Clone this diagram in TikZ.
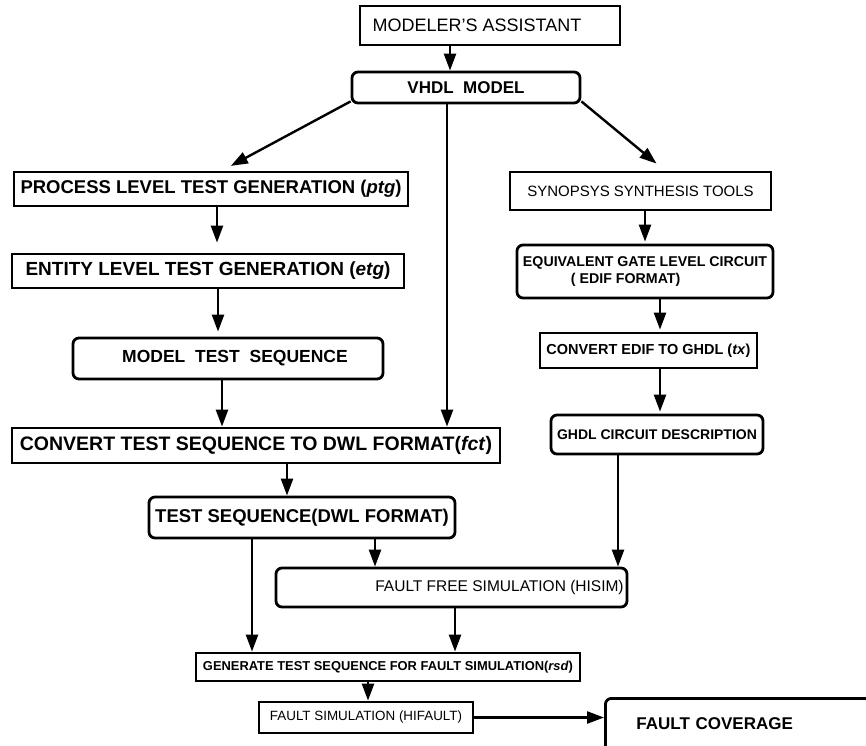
\documentclass[tikz,border=0pt]{standalone}
\usepackage{fontspec}
\setmainfont{Liberation Sans}
\usetikzlibrary{arrows.meta}
\newcommand{\fsz}[1]{\fontsize{#1}{#1}\selectfont}
\tikzset{
  bx/.style={draw, line width=2.8pt, inner sep=0pt, align=center},
  rbx/.style={bx, rounded corners=6pt},
  arr/.style={line width=2.4pt, -{Triangle[length=17pt,width=12pt]}},
}
\begin{document}
\begin{tikzpicture}[x=1pt,y=-1pt]
\useasboundingbox (0,0) rectangle (866,745);
% left column
\node[bx, minimum width=260pt, minimum height=39pt, font=\fsz{18}] (ma) at (490,25.5) {MODELER'S ASSISTANT\hspace{26pt}};
\node[rbx, minimum width=228pt, minimum height=31pt, font=\fsz{17}\bfseries] (vhdl) at (466,87.5) {VHDL\ \ MODEL};
\node[bx, minimum width=394pt, minimum height=34pt, font=\fsz{18.5}\bfseries] (ptg) at (211,189) {PROCESS LEVEL TEST GENERATION (\textit{ptg})};
\node[bx, minimum width=392pt, minimum height=34pt, font=\fsz{19}\bfseries] (etg) at (208,271) {ENTITY LEVEL TEST GENERATION (\textit{etg})};
\node[rbx, minimum width=310pt, minimum height=41pt, font=\fsz{17.5}\bfseries] (mts) at (228,358.5) {\hspace{14pt}MODEL\ \ TEST\ \ SEQUENCE};
\node[bx, minimum width=488pt, minimum height=35pt, font=\fsz{19.5}\bfseries] (fct) at (256,445.5) {CONVERT TEST SEQUENCE TO DWL FORMAT(\textit{fct})};
\node[rbx, minimum width=306pt, minimum height=41pt, font=\fsz{18.5}\bfseries] (ts) at (302,517.5) {TEST SEQUENCE(DWL FORMAT)};
% right column
\node[bx, minimum width=261pt, minimum height=38pt, font=\fsz{15}] (syn) at (640.5,191) {SYNOPSYS SYNTHESIS TOOLS};
\node[rbx, minimum width=256pt, minimum height=53pt, font=\fsz{14.2}\bfseries, align=left] (eglc) at (645,271.5) {EQUIVALENT GATE LEVEL CIRCUIT\\[2pt]\hspace{48pt}( EDIF FORMAT)};
\node[bx, minimum width=217pt, minimum height=35pt, font=\fsz{14.5}\bfseries] (edif) at (648.5,350.5) {CONVERT EDIF TO GHDL (\textit{tx})};
\node[rbx, minimum width=212pt, minimum height=39pt, font=\fsz{14}\bfseries] (ghdl) at (657,434.5) {GHDL CIRCUIT DESCRIPTION};
% bottom
\node[rbx, minimum width=351pt, minimum height=39pt, font=\fsz{15.5}] (ffs) at (451.5,587.5) {\hspace{96pt}FAULT FREE SIMULATION (HISIM)};
\node[bx, minimum width=384pt, minimum height=28pt, font=\fsz{12.9}\bfseries] (gen) at (388,667) {GENERATE TEST SEQUENCE FOR FAULT SIMULATION(\textit{rsd})};
\node[bx, minimum width=214pt, minimum height=31pt, font=\fsz{13.4}] (fsim) at (366,717.5) {FAULT SIMULATION (HIFAULT)};
\node[rbx, minimum width=296pt, minimum height=64pt, text width=262pt, inner xsep=0pt, font=\fsz{17}\bfseries, align=left, anchor=north west] (fc) at (604,697) {\hspace{14pt}\raisebox{13pt}{FAULT COVERAGE}};
% connectors
\draw[arr] (ma.south -| 450,0) -- (vhdl.north -| 450,0);
\draw[arr, shorten >=10pt] (vhdl.south west) ++(0,-3) -- (ptg.north -| 222,0);
\draw[arr] (vhdl.south -| 447,0) -- (fct.north -| 447,0);
\draw[arr, shorten >=11pt] (vhdl.south east) ++(0,-3) -- (syn.north -| 665,0);
\draw[arr, shorten >=10pt] (ptg.south -| 217,0) -- (etg.north -| 217,0);
\draw[arr, shorten >=5pt] (etg.south -| 218,0) -- (mts.north -| 218,0);
\draw[arr] (mts.south -| 222,0) -- (fct.north -| 222,0);
\draw[arr] (fct.south -| 287,0) -- (ts.north -| 287,0);
\draw[arr, shorten >=2pt] (syn.south -| 645,0) -- (eglc.north -| 645,0);
\draw[arr, shorten >=2pt] (eglc.south -| 660,0) -- (edif.north -| 660,0);
\draw[arr, shorten >=2pt] (edif.south -| 660,0) -- (ghdl.north -| 660,0);
\draw[arr] (ghdl.south -| 618,0) -- (ffs.north -| 618,0);
\draw[arr] (ts.south -| 375,0) -- (ffs.north -| 375,0);
\draw[arr] (ts.south -| 252,0) -- (gen.north -| 252,0);
\draw[arr] (ffs.south -| 455,0) -- (gen.north -| 455,0);
\draw[arr] (gen.south -| 368,0) -- (fsim.north -| 368,0);
\draw[arr] (fsim.east) -- (fc.west |- fsim.east);
\end{tikzpicture}
\end{document}
